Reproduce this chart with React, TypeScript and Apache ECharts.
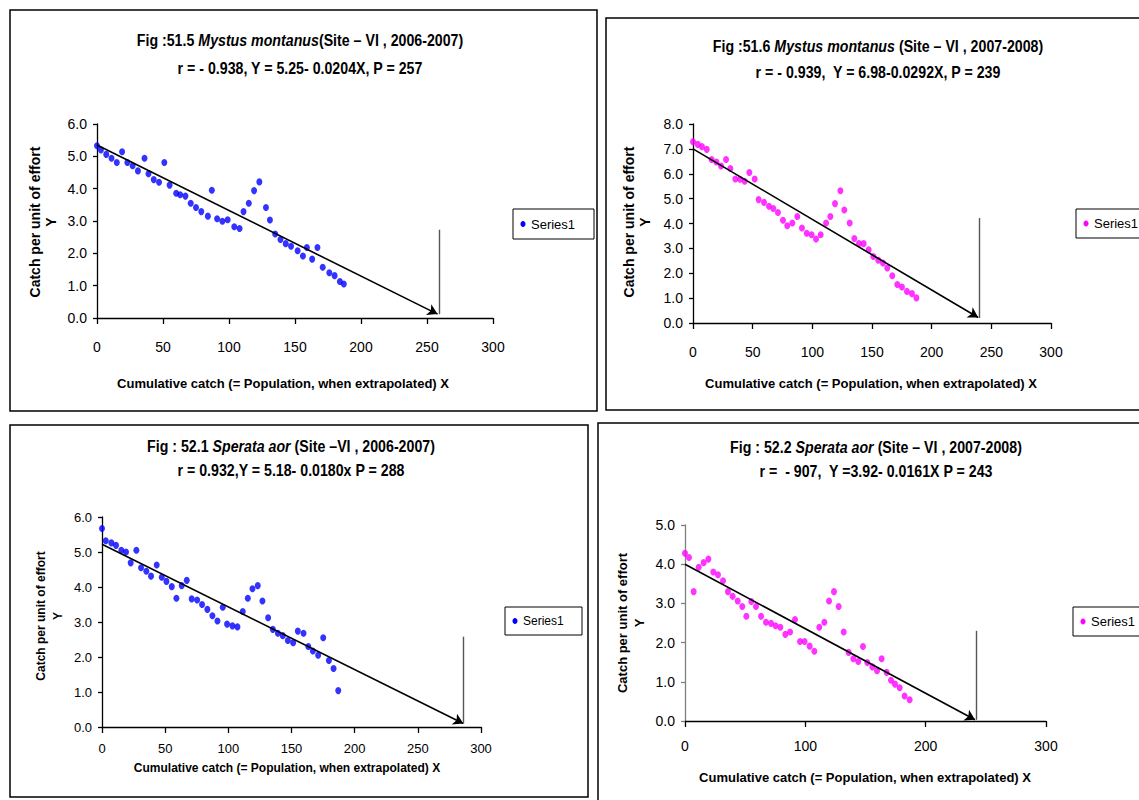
import React, { useEffect, useRef } from 'react';
import * as echarts from 'echarts';

const FONT = '"Liberation Sans", Arial, sans-serif';
const NARROW = '"Liberation Sans Narrow", "Liberation Sans", Arial, sans-serif';

// ---------- data ----------
const x1 = [0,3,7,11,15,19,23,27,31,36,39,43,47,51,55,60,63,67,71,75,79,84,87,91,95,99,104,108,111,115,119,123,128,131,135,139,143,147,152,156,159,163,167,171,176,180,184,187];
const y1 = [5.33,5.2,5.06,4.94,4.81,5.14,4.81,4.71,4.55,4.94,4.46,4.28,4.2,4.81,4.11,3.86,3.81,3.77,3.55,3.42,3.29,3.15,3.95,3.07,2.99,3.04,2.82,2.77,3.29,3.55,3.94,4.21,3.42,3.03,2.6,2.43,2.3,2.22,2.08,1.92,2.18,1.82,2.18,1.57,1.4,1.31,1.13,1.05];

const x2 = [0,4,7.5,11.5,15.6,19.6,23.5,27.7,31.3,35.5,39.4,43.3,47.2,51.7,55,59.5,63.7,67.3,71.2,75.4,79,83.2,87.4,91.3,95.3,99.4,103.1,107,111.5,115.1,119,123.5,126.8,131.3,135.2,139.1,143,147.2,151.1,155.3,159.2,162.8,167,171.2,175.1,179.3,183.5,187.2];
const y2 = [7.29,7.18,7.09,6.98,6.57,6.47,6.31,6.57,6.21,5.79,5.78,5.7,6.05,5.79,4.96,4.85,4.69,4.6,4.44,4.13,3.91,4.02,4.28,3.82,3.61,3.55,3.38,3.55,4.02,4.28,4.8,5.32,4.54,4.02,3.4,3.19,3.19,2.94,2.67,2.52,2.41,2.21,1.9,1.55,1.45,1.27,1.18,1.01];

const x3 = [0,3,7.4,11.1,15.3,19,22.7,27.2,30.9,35.1,38.8,43.3,47.3,51,55.2,58.9,63.1,67.1,71,75.3,79.2,83.4,87.4,91.4,95.6,99,103.2,107.2,111.4,115.4,119.1,123.3,127,131.5,135.2,139.2,143.1,147.1,151.3,155,159.5,163.3,166.9,171.1,175.1,179.6,183.3,187];
const y3 = [5.67,5.32,5.26,5.19,5.05,5.0,4.69,5.05,4.55,4.45,4.31,4.63,4.28,4.16,4.01,3.68,4.04,4.19,3.66,3.63,3.5,3.36,3.18,3.03,3.42,2.94,2.89,2.86,3.3,3.68,3.95,4.04,3.6,3.12,2.79,2.68,2.61,2.47,2.41,2.74,2.68,2.3,2.17,2.05,2.55,1.9,1.67,1.04];

const x4 = [0,3.3,7.2,11.4,15.5,19.4,23.5,27.4,31.6,35.7,39.6,43.8,47.6,51,55.1,59,63.2,67.3,71.5,75.3,79.2,83.4,87.3,91.4,95.6,99.4,103.6,107.5,111.6,115.8,119.7,123.8,127.7,131.9,136,139.9,144,147.9,151.5,155.7,159.6,163.4,167.6,171.2,174.5,178.4,182.5,186.7];
const y4 = [4.28,4.17,3.3,3.92,4.04,4.13,3.8,3.73,3.58,3.3,3.18,3.06,2.92,2.67,3.05,2.92,2.67,2.52,2.49,2.43,2.39,2.21,2.27,2.59,2.03,2.03,1.91,1.78,2.39,2.52,3.06,3.3,2.92,2.27,1.75,1.59,1.52,1.9,1.49,1.38,1.28,1.59,1.24,1.04,0.94,0.85,0.64,0.54];

// regression arrow: start (0, lineStartY) -> end (lineEndX, lineEndY)
const lineStartY = [5.35, 7.0, 5.22, 4.0];
const lineEndX = [258, 239, 286, 241];
const lineEndY = [0.12, 0.22, 0.1, 0.03];
// vertical marker line at the population estimate
const vertX = [259, 240, 286, 242];
const vertTop = [2.73, 4.22, 2.58, 2.3];
const vertBottom = [0.12, 0.2, 0.1, 0.03];

const yMaxes = [6, 8, 6, 5];
const xIntervals = [50, 50, 50, 100];
const seriesName = 'Series1';

const titleFig = ['Fig :51.5 ', 'Fig :51.6 ', 'Fig : 52.1 ', 'Fig : 52.2 '];
const titleSpecies = ['Mystus montanus', 'Mystus montanus', 'Sperata aor', 'Sperata aor'];
const titleSite = ['(Site – VI , 2006-2007)', ' (Site – VI , 2007-2008)', ' (Site –VI , 2006-2007)', ' (Site – VI , 2007-2008)'];
const titleStats = [
  'r = - 0.938, Y = 5.25- 0.0204X, P = 257',
  'r = - 0.939,  Y = 6.98-0.0292X, P = 239',
  'r = 0.932,Y = 5.18- 0.0180x P = 288',
  'r =  - 907,  Y =3.92- 0.0161X P = 243',
];
const xTitle = 'Cumulative catch (= Population, when extrapolated) X';
const yTitle = 'Catch per unit of effort';

// ---------- layout ----------
const xs = [x1, x2, x3, x4];
const ys = [y1, y2, y3, y4];
const colors = ['#0000ff', '#ff00ff', '#0000ff', '#ff00ff'];
const grids = [
  { left: 97, top: 124, width: 396, height: 194 },
  { left: 693, top: 124, width: 358, height: 199 },
  { left: 102, top: 517, width: 379, height: 210 },
  { left: 685, top: 525, width: 361, height: 196 },
];
const tickFont = [14, 14, 13, 14];
const xLabelMargin = [22, 22, 15, 18];
const yAxisColor = ['#000', '#000', '#000', '#808080'];
const boxes = [
  { x: 10, y: 10, w: 587, h: 401 },
  { x: 606, y: 18, w: 560, h: 392 },
  { x: 10, y: 425, w: 578, h: 372 },
  { x: 598, y: 423, w: 560, h: 400 },
];
const titlePos = [
  { x: 300, y1: 40, y2: 68 },
  { x: 878, y1: 46, y2: 72 },
  { x: 291, y1: 446, y2: 470 },
  { x: 876, y1: 447, y2: 471 },
];
const xTitlePos = [
  { x: 283, y: 383, s: 13 },
  { x: 871, y: 383, s: 13 },
  { x: 287, y: 768, s: 12 },
  { x: 865, y: 777, s: 13 },
];
const yTitlePos = [
  { x: 35, xy: 51, y: 222, s: 14 },
  { x: 629, xy: 645, y: 222, s: 14 },
  { x: 41, xy: 58, y: 616, s: 12 },
  { x: 622, xy: 639, y: 623, s: 13 },
];
const legendPos = [
  { x: 513, y: 209, w: 81, h: 30, s: 13 },
  { x: 1076, y: 209, w: 82, h: 29, s: 13 },
  { x: 505, y: 607, w: 77, h: 28, s: 12 },
  { x: 1073, y: 607, w: 82, h: 29, s: 13 },
];
const TITLE_SIZE = 16.5;
const TITLE_SCALE = 0.86;

export default function App() {
  const ref = useRef<HTMLDivElement>(null);
  useEffect(() => {
    const chart = echarts.init(ref.current!, null, { renderer: 'svg' });
    const graphic: any[] = [];
    for (let i = 0; i < 4; i++) {
      const b = boxes[i];
      graphic.push({ type: 'rect', shape: { x: b.x, y: b.y, width: b.w, height: b.h }, style: { fill: 'none', stroke: '#000', lineWidth: 1.5 }, z: 0 });
      const t = titlePos[i];
      graphic.push({
        type: 'text', x: t.x, y: t.y1, scaleX: TITLE_SCALE,
        style: {
          text: `{n|${titleFig[i]}}{i|${titleSpecies[i]}}{n|${titleSite[i]}}`,
          align: 'center', verticalAlign: 'middle',
          rich: {
            n: { fontFamily: NARROW, fontSize: TITLE_SIZE, fontWeight: 'bold', fill: '#000' },
            i: { fontFamily: NARROW, fontSize: TITLE_SIZE, fontWeight: 'bold', fontStyle: 'italic', fill: '#000' },
          },
        },
      });
      graphic.push({
        type: 'text', x: t.x, y: t.y2, scaleX: TITLE_SCALE,
        style: { text: titleStats[i], align: 'center', verticalAlign: 'middle', fontFamily: NARROW, fontSize: TITLE_SIZE, fontWeight: 'bold', fill: '#000' },
      });
      const xt = xTitlePos[i];
      graphic.push({
        type: 'text', x: xt.x, y: xt.y,
        style: { text: xTitle, align: 'center', verticalAlign: 'middle', fontFamily: FONT, fontSize: xt.s, fontWeight: 'bold', fill: '#000' },
      });
      const yt = yTitlePos[i];
      graphic.push({
        type: 'text', x: yt.x, y: yt.y, rotation: Math.PI / 2,
        style: { text: yTitle, align: 'center', verticalAlign: 'middle', fontFamily: FONT, fontSize: yt.s, fontWeight: 'bold', fill: '#000' },
      });
      graphic.push({
        type: 'text', x: yt.xy, y: yt.y, rotation: Math.PI / 2,
        style: { text: 'Y', align: 'center', verticalAlign: 'middle', fontFamily: FONT, fontSize: yt.s, fontWeight: 'bold', fill: '#000' },
      });
      const l = legendPos[i];
      graphic.push({ type: 'rect', shape: { x: l.x, y: l.y, width: l.w, height: l.h }, style: { fill: '#fff', stroke: '#000', lineWidth: 1 } });
      graphic.push({ type: 'ellipse', shape: { cx: l.x + 10, cy: l.y + l.h / 2, rx: 2.5, ry: 3 }, style: { fill: colors[i] } });
      graphic.push({
        type: 'text', x: l.x + 18, y: l.y + l.h / 2,
        style: { text: seriesName, align: 'left', verticalAlign: 'middle', fontFamily: FONT, fontSize: l.s, fill: '#000' },
      });
    }

    const option: any = {
      animation: false,
      backgroundColor: '#fff',
      textStyle: { fontFamily: FONT },
      grid: grids.map((g) => ({ ...g, containLabel: false })),
      xAxis: grids.map((_, i) => ({
        type: 'value', gridIndex: i, min: 0, max: 300, interval: xIntervals[i],
        axisLine: { show: true, onZero: false, lineStyle: { color: '#000', width: 1.3 } },
        axisTick: { show: true, inside: false, length: 6, lineStyle: { color: '#000', width: 1.3 } },
        axisLabel: { show: true, margin: xLabelMargin[i], fontSize: tickFont[i], color: '#000', fontFamily: FONT },
        splitLine: { show: false },
      })),
      yAxis: grids.map((_, i) => ({
        type: 'value', gridIndex: i, min: 0, max: yMaxes[i], interval: 1,
        axisLine: { show: true, onZero: false, lineStyle: { color: yAxisColor[i], width: 1.3 } },
        axisTick: { show: true, inside: false, length: 4, lineStyle: { color: yAxisColor[i], width: 1.3 } },
        axisLabel: { show: true, margin: 10, fontSize: tickFont[i], color: '#000', fontFamily: FONT, formatter: (v: number) => v.toFixed(1) },
        splitLine: { show: false },
      })),
      graphic,
      series: xs.map((xv, i) => ({
        type: 'scatter', name: seriesName, xAxisIndex: i, yAxisIndex: i,
        symbol: 'circle', symbolSize: [6, 7],
        itemStyle: { color: colors[i] },
        data: xv.map((x, k) => [x, ys[i][k]]),
        z: 3,
        markLine: {
          silent: true, animation: false,
          label: { show: false },
          symbolSize: [9, 10],
          data: [
            [
              { coord: [0, lineStartY[i]], symbol: 'none', lineStyle: { color: '#000', width: 1.6, type: 'solid' } },
              { coord: [lineEndX[i], lineEndY[i]], symbol: 'arrow' },
            ],
            [
              { coord: [vertX[i], vertTop[i]], symbol: 'none', lineStyle: { color: '#555', width: 1.4, type: 'solid' } },
              { coord: [vertX[i], vertBottom[i]], symbol: 'none' },
            ],
          ],
        },
      })),
    };
    chart.setOption(option);
    return () => chart.dispose();
  }, []);
  return <div ref={ref} style={{ position: 'absolute', left: 0, top: 0, width: 1139, height: 800, background: '#fff' }} />;
}
